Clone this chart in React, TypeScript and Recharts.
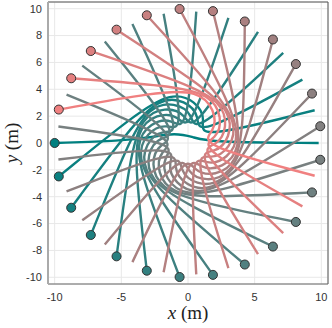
import React from "react";
import {
  ComposedChart,
  Line,
  Scatter,
  Cell,
  XAxis,
  YAxis,
  CartesianGrid,
  ReferenceLine,
  Label,
} from "recharts";

// one color per agent, teal -> gray -> light coral
const agentColors = [
  "#008080", "#0a8080", "#148080", "#1e8080", "#288080",
  "#328080", "#3c8080", "#468080", "#508080", "#5a8080",
  "#648080", "#6e8080", "#788080", "#828080", "#8c8080",
  "#968080", "#a08080", "#aa8080", "#b48080", "#be8080",
  "#c88080", "#d28080", "#dc8080", "#e68080", "#f08080",
];

// trajectories (start on the circle, goal opposite)
const pathX = [
  [-10, -5, -2.6, -1.0, 0.4, 1.6, 9.8],
  [-9.69, -3.94, -1.24, 0.6, 1.4, 0.56, 9.5],
  [-8.76, -4.36, -2.14, -0.2, 0.94, 0.49, 8.58],
  [-7.29, -4.5, -2.92, -0.99, 0.41, 0.38, 7.14],
  [-5.36, -4.36, -3.5, -1.72, -0.14, 0.26, 5.25],
  [-3.09, -3.94, -3.88, -2.33, -0.68, 0.11, 3.03],
  [-0.63, -3.28, -4.0, -2.8, -1.18, -0.04, 0.62],
  [1.87, -2.41, -3.88, -3.1, -1.6, -0.19, -1.83],
  [4.26, -1.39, -3.5, -3.2, -1.93, -0.32, -4.17],
  [6.37, -0.28, -2.92, -3.1, -2.13, -0.44, -6.24],
  [8.09, 0.84, -2.14, -2.8, -2.2, -0.53, -7.93],
  [9.3, 1.92, -1.24, -2.33, -2.13, -0.58, -9.11],
  [9.92, 2.87, -0.25, -1.72, -1.93, -0.6, -9.72],
  [9.92, 3.64, 0.75, -0.99, -1.6, -0.58, -9.72],
  [9.3, 4.19, 1.7, -0.2, -1.18, -0.53, -9.11],
  [8.09, 4.46, 2.55, 0.6, -0.68, -0.44, -7.93],
  [6.37, 4.46, 3.24, 1.36, -0.14, -0.32, -6.24],
  [4.26, 4.19, 3.72, 2.04, 0.41, -0.19, -4.17],
  [1.87, 3.64, 3.97, 2.59, 0.94, -0.04, -1.83],
  [-0.63, 2.87, 3.97, 2.98, 1.4, 0.11, 0.62],
  [-3.09, 1.92, 3.72, 3.17, 1.78, 0.26, 3.03],
  [-5.36, 0.84, 3.24, 3.17, 2.05, 0.38, 5.25],
  [-7.29, -0.28, 2.55, 2.98, 2.18, 0.49, 7.14],
  [-8.76, -1.39, 1.7, 2.59, 2.18, 0.56, 8.58],
  [-9.69, -2.41, 0.75, 2.04, 2.05, 0.59, 9.5],
];

const pathY = [
  [0, 0.15, 0.45, 0.75, 0.45, 0.05, 0],
  [-2.49, 2.17, 3.8, 3.14, 1.7, 0.22, 2.44],
  [-4.82, 1.12, 3.38, 3.19, 1.99, 0.35, 4.72],
  [-6.85, 0, 2.74, 3.04, 2.16, 0.46, 6.71],
  [-8.44, -1.12, 1.93, 2.7, 2.2, 0.54, 8.27],
  [-9.51, -2.17, 1.0, 2.19, 2.09, 0.59, 9.32],
  [-9.98, -3.08, 0, 1.54, 1.86, 0.6, 9.78],
  [-9.82, -3.8, -1.0, 0.8, 1.51, 0.57, 9.62],
  [-9.05, -4.28, -1.93, 0, 1.06, 0.51, 8.87],
  [-7.71, -4.49, -2.74, -0.8, 0.55, 0.41, 7.56],
  [-5.88, -4.42, -3.38, -1.54, 0, 0.29, 5.76],
  [-3.68, -4.07, -3.8, -2.19, -0.55, 0.15, 3.61],
  [-1.25, -3.47, -3.99, -2.7, -1.06, 0, 1.23],
  [1.25, -2.65, -3.93, -3.04, -1.51, -0.15, -1.23],
  [3.68, -1.66, -3.62, -3.19, -1.86, -0.29, -3.61],
  [5.88, -0.56, -3.08, -3.14, -2.09, -0.41, -5.76],
  [7.71, 0.56, -2.35, -2.9, -2.2, -0.51, -7.56],
  [9.05, 1.66, -1.47, -2.47, -2.16, -0.57, -8.87],
  [9.82, 2.65, -0.5, -1.88, -1.99, -0.6, -9.62],
  [9.98, 3.47, 0.5, -1.18, -1.7, -0.59, -9.78],
  [9.51, 4.07, 1.47, -0.4, -1.29, -0.54, -9.32],
  [8.44, 4.42, 2.35, 0.4, -0.81, -0.46, -8.27],
  [6.85, 4.49, 3.08, 1.18, -0.28, -0.35, -6.71],
  [4.82, 4.28, 3.62, 1.88, 0.28, -0.22, -4.72],
  [2.49, 3.8, 3.93, 2.47, 0.81, -0.08, -2.44],
];

const xTicks = [-10, -5, 0, 5, 10];
const yTicks = [-10, -8, -6, -4, -2, 0, 2, 4, 6, 8, 10];

const tickStyle = { fontFamily: "Liberation Sans, Arial", fontSize: 11, fill: "#333" };

export default function App() {
  const series = pathX.map((xs, i) => xs.map((x, j) => ({ x, y: pathY[i][j] })));
  const starts = series.map((s) => s[0]);

  return (
    <div style={{ position: "absolute", left: 0, top: 0 }}>
      <ComposedChart
        width={332}
        height={328}
        margin={{ top: 2, right: 4, bottom: 0, left: 0 }}
      >
        <CartesianGrid stroke="#e8e8e8" />
        <XAxis
          type="number"
          dataKey="x"
          domain={[-10.5, 10.5]}
          ticks={xTicks}
          allowDataOverflow
          height={44}
          tick={tickStyle}
          tickLine={false}
          tickSize={0}
          tickMargin={9}
          axisLine={{ stroke: "#666", strokeWidth: 1 }}
        >
          <Label
            content={({ viewBox }: any) => (
              <text
                x={viewBox.x + viewBox.width / 2}
                y={viewBox.y + 35}
                textAnchor="middle"
                fontFamily="Liberation Serif, serif"
                fontSize={19}
                fill="#222"
              >
                <tspan fontStyle="italic">x</tspan>
                <tspan> (m)</tspan>
              </text>
            )}
          />
        </XAxis>
        <YAxis
          type="number"
          domain={[-10.5, 10.5]}
          ticks={yTicks}
          allowDataOverflow
          width={48}
          tick={tickStyle}
          tickLine={false}
          tickSize={0}
          tickMargin={6}
          axisLine={{ stroke: "#aaa", strokeWidth: 2 }}
        >
          <Label
            content={({ viewBox }: any) => {
              const cy = viewBox.y + viewBox.height / 2;
              return (
                <text
                  x={18}
                  y={cy}
                  transform={`rotate(-90 18 ${cy})`}
                  textAnchor="middle"
                  fontFamily="Liberation Serif, serif"
                  fontSize={19}
                  fill="#222"
                >
                  <tspan fontStyle="italic">y</tspan>
                  <tspan> (m)</tspan>
                </text>
              );
            }}
          />
        </YAxis>
        <ReferenceLine y={10.5} stroke="#555" strokeWidth={1} />
        <ReferenceLine x={10.5} stroke="#555" strokeWidth={1} />
        {series.map((d, i) => (
          <Line
            key={i}
            data={d}
            dataKey="y"
            type="basis"
            stroke={agentColors[i]}
            strokeWidth={2.4}
            dot={false}
            activeDot={false}
            isAnimationActive={false}
          />
        ))}
        <Scatter data={starts} dataKey="y" isAnimationActive={false}>
          {starts.map((_, i) => (
            <Cell key={i} fill={agentColors[i]} stroke="#333" strokeWidth={1} />
          ))}
        </Scatter>
      </ComposedChart>
    </div>
  );
}
